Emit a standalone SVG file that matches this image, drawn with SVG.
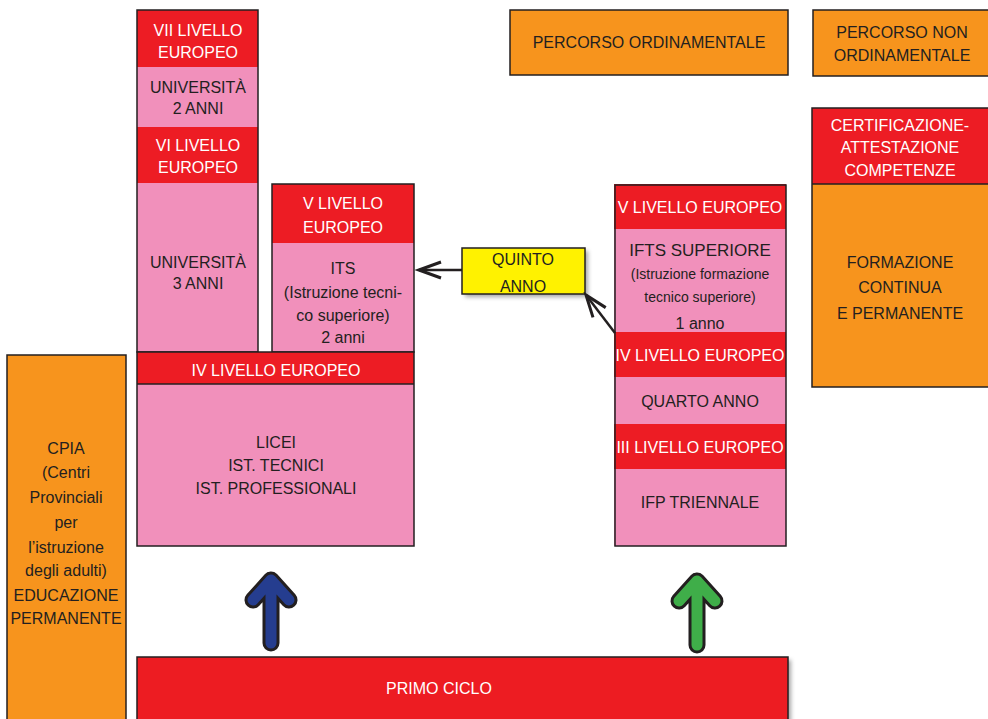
<svg xmlns="http://www.w3.org/2000/svg" width="988" height="719" viewBox="0 0 988 719">
<style>
.red{fill:#ed1c24}
.pink{fill:#f190bb}
.orange{fill:#f7941d}
.yellow{fill:#fff200}
.ol{fill:none;stroke:#231f20;stroke-width:1.5}
text{font-family:"Liberation Sans",Arial,sans-serif;font-size:16px;text-anchor:middle}
.w{fill:#ffffff}
.d{fill:#231f20}
.s{font-size:14px}
.conn{fill:none;stroke:#231f20;stroke-width:2.5}
</style>
<defs>
<filter id="sh" x="-10%" y="-20%" width="130%" height="160%">
<feDropShadow dx="3" dy="3" stdDeviation="2" flood-color="#000" flood-opacity="0.35"/>
</filter>
<marker id="open" markerUnits="userSpaceOnUse" viewBox="-26 -12 30 24" refX="0" refY="0" markerWidth="30" markerHeight="24" orient="auto">
<path d="M-22,-8 L0,0 L-22,8" fill="none" stroke="#231f20" stroke-width="3"/>
</marker>
</defs>
<rect width="988" height="719" fill="#ffffff"/>

<g id="legend-ordinamentale">
<rect x="510" y="10" width="278" height="65" class="orange"/>
<rect x="510" y="10" width="278" height="65" class="ol"/>
<text x="649" y="48" class="d">PERCORSO ORDINAMENTALE</text>
</g>

<g id="legend-non-ordinamentale">
<rect x="813" y="10" width="176" height="66" class="orange"/>
<rect x="813" y="10" width="176" height="66" class="ol"/>
<text x="902" y="38" class="d">PERCORSO NON</text>
<text x="902" y="61" class="d">ORDINAMENTALE</text>
</g>

<g id="formazione-continua">
<rect x="812" y="108" width="177" height="76" class="red"/>
<rect x="812" y="184" width="177" height="203" class="orange"/>
<rect x="812" y="108" width="177" height="279" class="ol"/>
<line x1="812" y1="184" x2="988" y2="184" class="ol"/>
<text x="900" y="131" class="w">CERTIFICAZIONE-</text>
<text x="900" y="153" class="w">ATTESTAZIONE</text>
<text x="900" y="176" class="w">COMPETENZE</text>
<text x="900" y="268" class="d">FORMAZIONE</text>
<text x="900" y="293" class="d">CONTINUA</text>
<text x="900" y="319" class="d">E PERMANENTE</text>
</g>

<g id="universita">
<rect x="137" y="10" width="121" height="57" class="red"/>
<rect x="137" y="67" width="121" height="60" class="pink"/>
<rect x="137" y="127" width="121" height="56" class="red"/>
<rect x="137" y="183" width="121" height="169" class="pink"/>
<rect x="137" y="10" width="121" height="342" class="ol"/>
<text x="198" y="36" class="w">VII LIVELLO</text>
<text x="198" y="58" class="w">EUROPEO</text>
<text x="198" y="93" class="d">UNIVERSITÀ</text>
<text x="198" y="114" class="d">2 ANNI</text>
<text x="198" y="151" class="w">VI LIVELLO</text>
<text x="198" y="173" class="w">EUROPEO</text>
<text x="198" y="268" class="d">UNIVERSITÀ</text>
<text x="198" y="289" class="d">3 ANNI</text>
</g>

<g id="its">
<rect x="272" y="184" width="142" height="59" class="red"/>
<rect x="272" y="243" width="142" height="109" class="pink"/>
<rect x="272" y="184" width="142" height="168" class="ol"/>
<text x="343" y="209" class="w">V LIVELLO</text>
<text x="343" y="233" class="w">EUROPEO</text>
<text x="343" y="274" class="d">ITS</text>
<text x="343" y="298" class="d">(Istruzione tecni-</text>
<text x="343" y="321" class="d">co superiore)</text>
<text x="343" y="343" class="d">2 anni</text>
</g>

<g id="licei">
<rect x="137" y="352" width="277" height="32" class="red"/>
<rect x="137" y="384" width="277" height="162" class="pink"/>
<rect x="137" y="352" width="277" height="194" class="ol"/>
<line x1="137" y1="384" x2="414" y2="384" class="ol"/>
<text x="276" y="376" class="w">IV LIVELLO EUROPEO</text>
<text x="276" y="448" class="d">LICEI</text>
<text x="276" y="471" class="d">IST. TECNICI</text>
<text x="276" y="494" class="d">IST. PROFESSIONALI</text>
</g>

<g id="ifts-ifp">
<rect x="614" y="184" width="172" height="45" class="red"/>
<rect x="614" y="229" width="172" height="103" class="pink"/>
<rect x="614" y="332" width="172" height="45" class="red"/>
<rect x="614" y="377" width="172" height="47" class="pink"/>
<rect x="614" y="424" width="172" height="45" class="red"/>
<rect x="614" y="469" width="172" height="77" class="pink"/>
<rect x="615" y="185" width="171" height="361" class="ol"/>
<text x="700" y="213" class="w">V LIVELLO EUROPEO</text>
<text x="700" y="256" class="d" style="font-size:17px">IFTS SUPERIORE</text>
<text x="700" y="279" class="d s">(Istruzione formazione</text>
<text x="700" y="302" class="d s">tecnico superiore)</text>
<text x="700" y="329" class="d">1 anno</text>
<text x="700" y="361" class="w">IV LIVELLO EUROPEO</text>
<text x="700" y="407" class="d">QUARTO ANNO</text>
<text x="700" y="453" class="w">III LIVELLO EUROPEO</text>
<text x="700" y="508" class="d">IFP TRIENNALE</text>
</g>

<g id="quinto-anno">
<rect x="462" y="248" width="123" height="46" class="yellow" filter="url(#sh)"/>
<rect x="462" y="248" width="123" height="46" class="ol"/>
<text x="523" y="265" class="d">QUINTO</text>
<text x="523" y="292" class="d">ANNO</text>
</g>

<g id="cpia">
<rect x="7" y="355" width="119" height="370" class="orange"/>
<rect x="7" y="355" width="119" height="370" class="ol"/>
<text x="66" y="454" class="d">CPIA</text>
<text x="66" y="478" class="d">(Centri</text>
<text x="66" y="503" class="d">Provinciali</text>
<text x="66" y="528" class="d">per</text>
<text x="66" y="553" class="d">l’istruzione</text>
<text x="66" y="576" class="d">degli adulti)</text>
<text x="66" y="601" class="d">EDUCAZIONE</text>
<text x="66" y="624" class="d">PERMANENTE</text>
</g>

<g id="primo-ciclo">
<rect x="137" y="657" width="651" height="70" class="red" filter="url(#sh)"/>
<rect x="137" y="657" width="651" height="70" class="ol"/>
<text x="439" y="694" class="w">PRIMO CICLO</text>
</g>

<g id="connectors">
<line x1="462" y1="270" x2="419" y2="270" class="conn" marker-end="url(#open)"/>
<line x1="615" y1="333" x2="586" y2="295" class="conn" marker-end="url(#open)"/>
<g id="arrow-blue">
<path d="M253,600 L271,580 L289,600 M271,580 L271,643" fill="none" stroke="#231f20" stroke-width="17" stroke-linecap="round" stroke-linejoin="round"/>
<path d="M253,600 L271,580 L289,600 M271,580 L271,643" fill="none" stroke="#253d8f" stroke-width="11" stroke-linecap="round" stroke-linejoin="round"/>
</g>
<g id="arrow-green">
<path d="M679,601 L697,581 L715,601 M697,581 L697,645" fill="none" stroke="#231f20" stroke-width="17" stroke-linecap="round" stroke-linejoin="round"/>
<path d="M679,601 L697,581 L715,601 M697,581 L697,645" fill="none" stroke="#3fae49" stroke-width="11" stroke-linecap="round" stroke-linejoin="round"/>
</g>
</g>
</svg>
